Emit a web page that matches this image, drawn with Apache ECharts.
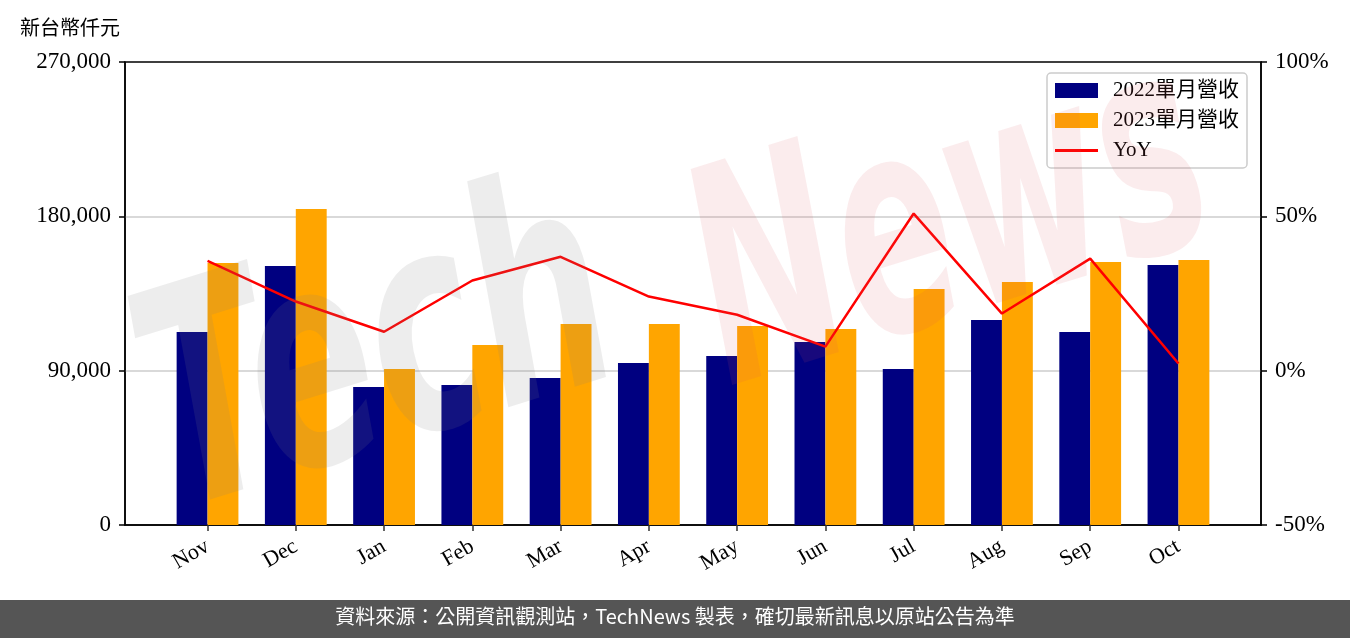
<!DOCTYPE html>
<html>
<head>
<meta charset="utf-8">
<script src="https://cdn.jsdelivr.net/npm/echarts@6/dist/echarts.min.js"></script>
<style>html,body{margin:0;padding:0;background:#fff}#c{width:1350px;height:638px}</style>
</head>
<body>
<div id="c"></div>
<script>
const months = ['Nov','Dec','Jan','Feb','Mar','Apr','May','Jun','Jul','Aug','Sep','Oct'];
const rev2022 = [112500,151000,80500,81600,85700,94500,98500,106700,91000,119500,112500,151600];
const rev2023 = [152800,184300,91000,105000,117200,117200,116000,114300,137600,141700,153400,154500];
const yoy = [35.6,22.4,12.6,29.2,36.9,24.0,18.1,7.8,50.9,18.5,36.3,2.3];
const leftTicks = [0,90000,180000,270000];
const rightTicks = [-50,0,50,100];

const serif = "'Liberation Serif','DejaVu Serif','Noto Sans CJK TC',serif";
const chart = echarts.init(document.getElementById('c'));
chart.setOption({
  animation:false,
  textStyle:{fontFamily:serif},
  grid:{left:125,right:89,top:62,bottom:113,show:true,borderColor:'#000',borderWidth:1.5,backgroundColor:'transparent'},
  legend:{
    orient:'vertical',right:103,top:73,
    borderColor:'#cccccc',borderWidth:1.5,borderRadius:4,padding:[7,8,7,8],
    itemWidth:43,itemHeight:15,itemGap:9,
    textStyle:{fontFamily:serif,fontSize:21,color:'#000',padding:[0,0,0,10]},
    data:[{name:'2022單月營收',icon:'rect'},{name:'2023單月營收',icon:'rect'},{name:'YoY',icon:'path://M0,0H43V3H0Z'}]
  },
  xAxis:{
    type:'value',min:-0.935,max:11.935,
    splitLine:{show:false},
    axisLine:{show:true,onZero:false,lineStyle:{color:'#000',width:1.5}},
    axisTick:{show:true,customValues:months.map((m,i)=>i),length:6,lineStyle:{color:'#333',width:1.5}},
    axisLabel:{customValues:months.map((m,i)=>i),formatter:v=>months[Math.round(v)],rotate:30,fontSize:22,color:'#000',margin:20,fontFamily:serif}
  },
  yAxis:[
    {type:'value',min:0,max:270000,interval:90000,
     axisLine:{show:true,onZero:false,lineStyle:{color:'#000',width:1.5}},
     axisTick:{show:true,length:6,lineStyle:{color:'#000',width:1.5}},
     axisLabel:{fontSize:23,color:'#000',margin:14,formatter:v=>v.toLocaleString('en-US')},
     splitLine:{show:true,showMinLine:false,showMaxLine:false,lineStyle:{color:'#cccccc',width:1.5}}},
    {type:'value',min:-50,max:100,interval:50,position:'right',
     axisLine:{show:true,onZero:false,lineStyle:{color:'#000',width:1.5}},
     axisTick:{show:true,length:6,lineStyle:{color:'#000',width:1.5}},
     axisLabel:{fontSize:23,color:'#000',margin:14,formatter:v=>v+'%'},
     splitLine:{show:false}}
  ],
  series:[
    {name:'2022單月營收',type:'bar',barWidth:'35%',barGap:'0%',itemStyle:{color:'#000080'},
     data:rev2022.map((v,i)=>[i,v])},
    {name:'2023單月營收',type:'bar',barWidth:'35%',barGap:'0%',itemStyle:{color:'#FFA500'},
     data:rev2023.map((v,i)=>[i,v])},
    {name:'YoY',type:'line',yAxisIndex:1,symbol:'none',lineStyle:{color:'#ff0000',width:2.5},itemStyle:{color:'#ff0000'},z:5,
     data:yoy.map((v,i)=>[i,v])}
  ],
  graphic:[
    {type:'text',left:20,top:17,style:{text:'新台幣仟元',font:"20px 'Noto Sans CJK TC',sans-serif",fill:'#000'}},
    {type:'text',x:200,y:578,rotation:0.3,scaleX:0.62,z:100,silent:true,
     style:{text:'Tech',font:"italic bold 300px 'DejaVu Sans',sans-serif",fill:'rgba(128,128,128,0.14)',verticalAlign:'bottom'}},
    {type:'text',x:750,y:455,rotation:0.3,scaleX:0.57,z:100,silent:true,
     style:{text:'News',font:"italic bold 300px 'DejaVu Sans',sans-serif",fill:'rgba(220,80,95,0.11)',verticalAlign:'bottom'}},
    {type:'rect',left:0,top:600,shape:{width:1350,height:38},style:{fill:'#555555'}},
    {type:'text',left:'center',top:606,style:{text:'資料來源：公開資訊觀測站，TechNews 製表，確切最新訊息以原站公告為準',font:"20px 'Noto Sans CJK TC',sans-serif",fill:'#fff'}}
  ]
});
</script>
</body>
</html>
